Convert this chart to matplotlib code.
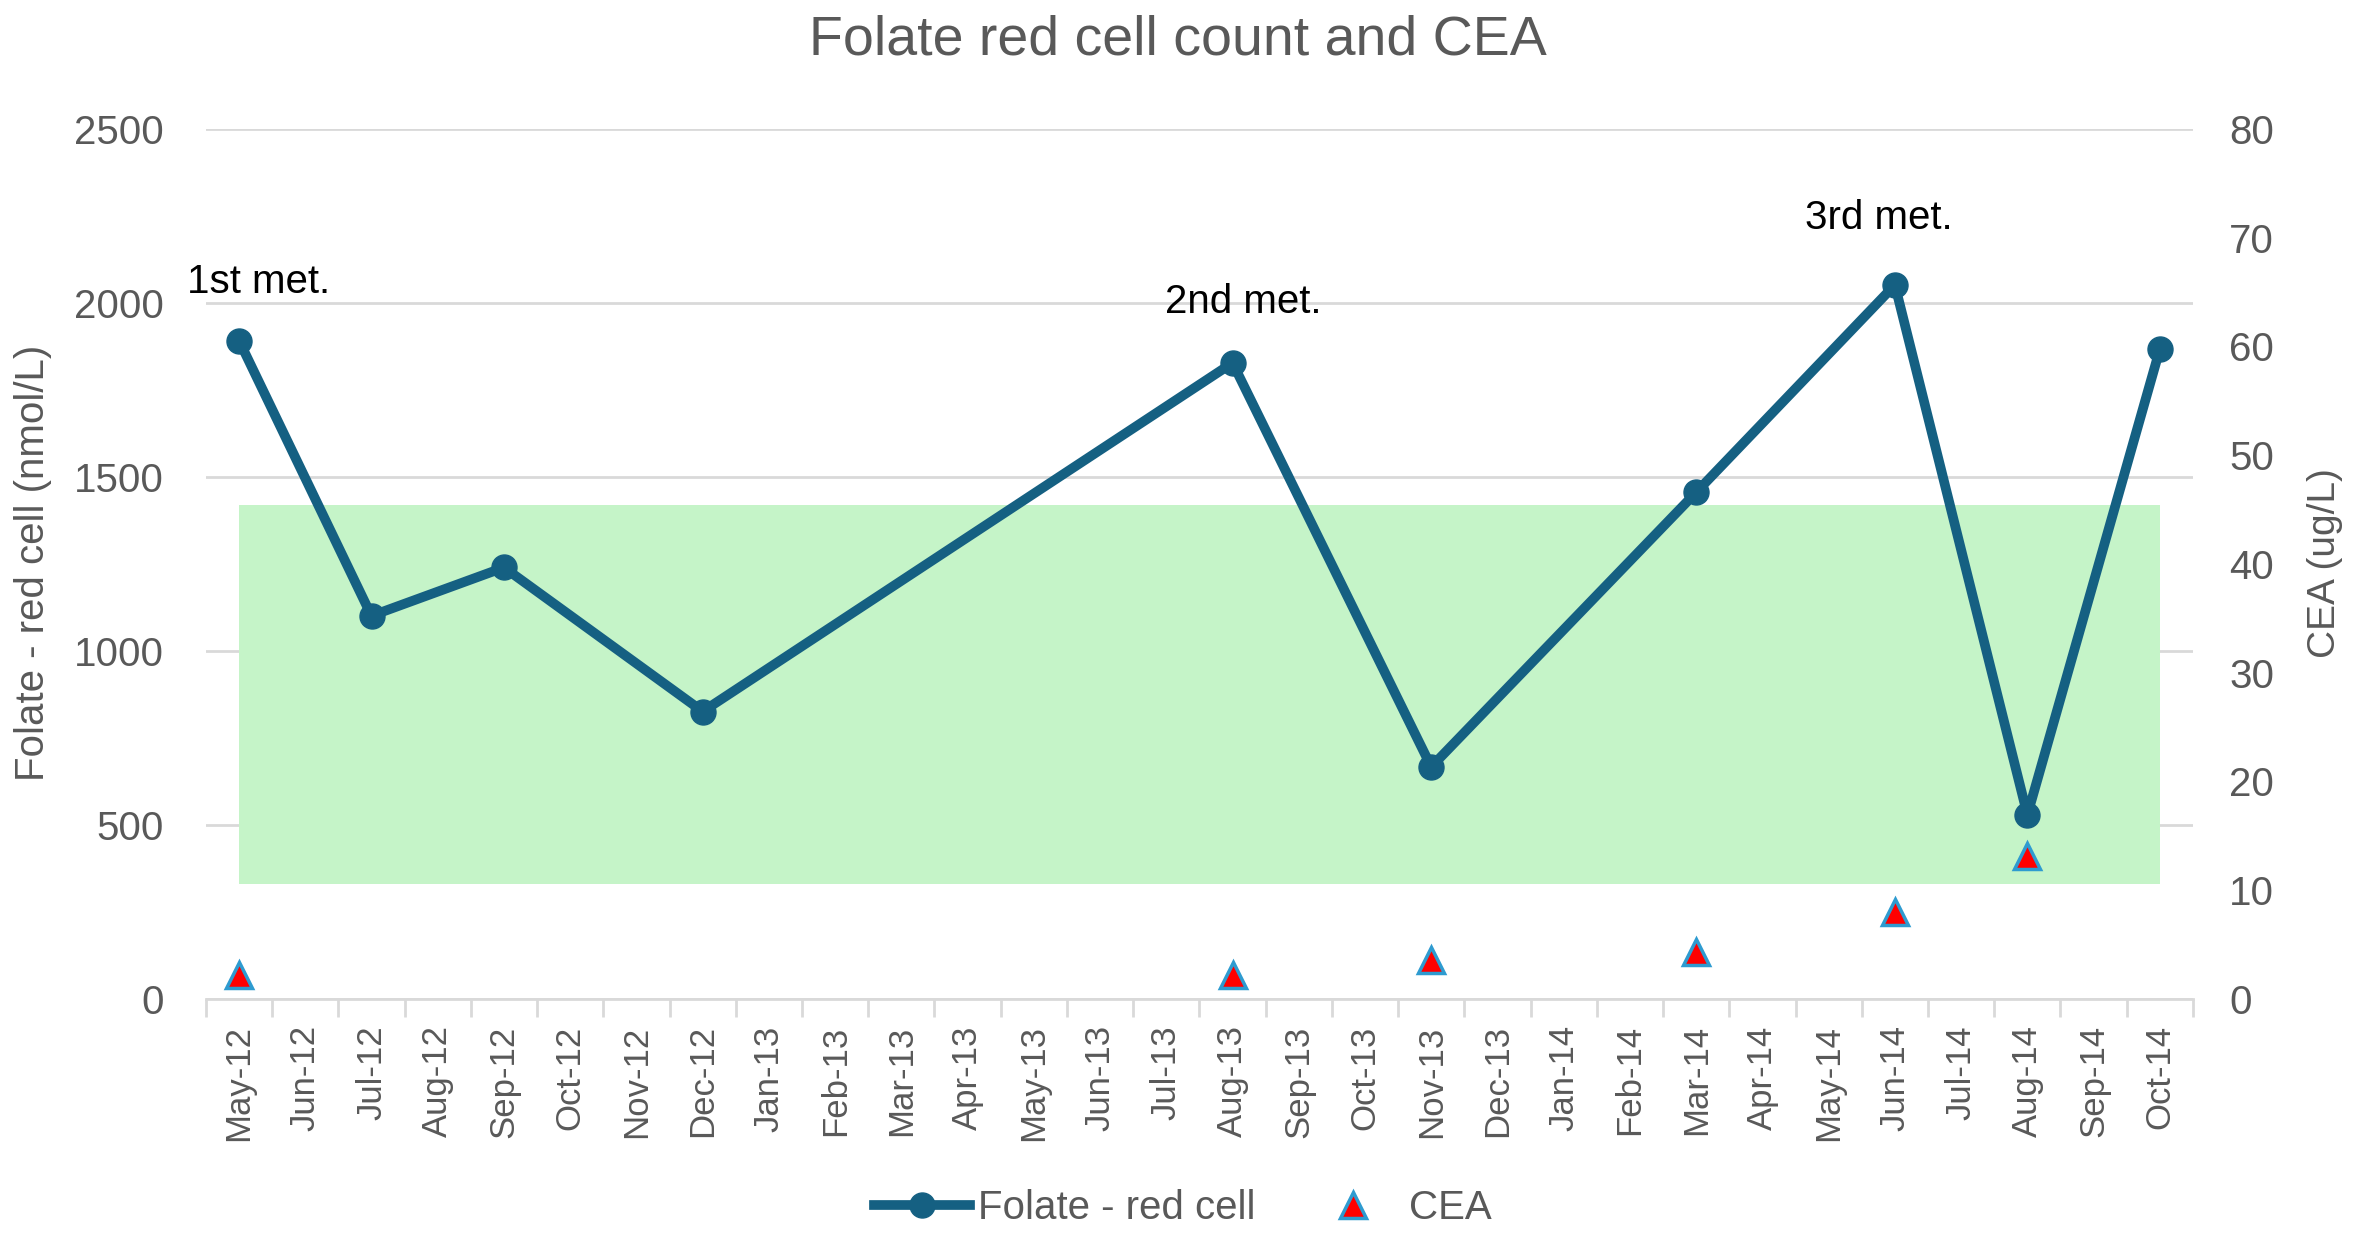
import matplotlib
matplotlib.use('Agg')
import matplotlib.pyplot as plt
from matplotlib.lines import Line2D

plt.rcParams['font.family'] = ['Liberation Sans', 'DejaVu Sans']

# month categories on the x axis
months = ['May-12', 'Jun-12', 'Jul-12', 'Aug-12', 'Sep-12', 'Oct-12', 'Nov-12', 'Dec-12',
          'Jan-13', 'Feb-13', 'Mar-13', 'Apr-13', 'May-13', 'Jun-13', 'Jul-13', 'Aug-13',
          'Sep-13', 'Oct-13', 'Nov-13', 'Dec-13', 'Jan-14', 'Feb-14', 'Mar-14', 'Apr-14',
          'May-14', 'Jun-14', 'Jul-14', 'Aug-14', 'Sep-14', 'Oct-14']

# folate red cell (nmol/L)
folate_months = ['May-12', 'Jul-12', 'Sep-12', 'Dec-12', 'Aug-13', 'Nov-13', 'Mar-14', 'Jun-14', 'Aug-14', 'Oct-14']
folate = [1892, 1101, 1240, 826, 1828, 667, 1456, 2052, 529, 1867]

# CEA (ug/L)
cea_months = ['May-12', 'Aug-13', 'Nov-13', 'Mar-14', 'Jun-14', 'Aug-14']
cea = [2.2, 2.2, 3.6, 4.3, 8.0, 13.1]

# folate reference range (shaded)
ref_low, ref_high = 330, 1420

# annotations: (text, month position, folate height)
notes = [('1st met.', -0.78, 2029), ('2nd met.', 13.98, 1971), ('3rd met.', 23.64, 2213)]

grey = '#595959'
grid_c = '#D9D9D9'
line_c = '#156082'

fig = plt.figure(figsize=(23.56, 12.38), dpi=100)
ax = fig.add_axes([0.0874, 0.1931, 0.8434, 0.7027])
ax2 = ax.twinx()

xf = [months.index(m) for m in folate_months]
xc = [months.index(m) for m in cea_months]

ax.fill_between([0, len(months) - 1], ref_low, ref_high, color='#C5F4C8', lw=0, zorder=1)
ax.plot(xf, folate, color=line_c, lw=7, marker='o', ms=18, zorder=3,
        solid_capstyle='round', solid_joinstyle='round')
ax2.plot(xc, cea, ls='none', marker='^', ms=19, mfc='#FF0000', mec='#2E9BD0', mew=2.5, zorder=4)

ax.set_xlim(-0.5, len(months) - 0.5)
ax.set_ylim(0, 2500)
ax2.set_ylim(0, 80)
ax.set_yticks(range(0, 2501, 500))
ax2.set_yticks(range(0, 81, 10))

ax.set_xticks(range(len(months)))
ax.set_xticklabels(months, rotation=90, fontsize=25, color=grey)
ax.set_xticks([i - 0.5 for i in range(len(months) + 1)], minor=True)
ax.tick_params(axis='x', which='major', length=0, pad=19)
ax.tick_params(axis='x', which='minor', length=13, width=2, color=grid_c)
ax.tick_params(axis='y', length=0, pad=30, labelsize=29, labelcolor=grey)
ax2.tick_params(axis='y', length=0, pad=26, labelsize=29, labelcolor=grey)

ax.grid(axis='y', color=grid_c, lw=2)
ax.set_axisbelow(True)
for s in ['top', 'left', 'right']:
    ax.spines[s].set_visible(False)
ax.spines['bottom'].set_color(grid_c)
ax.spines['bottom'].set_linewidth(2)
for s in ax2.spines.values():
    s.set_visible(False)

for txt, xp, yp in notes:
    ax.text(xp, yp, txt, fontsize=29, color='black', ha='left', va='baseline', zorder=5)

fig.text(0.5, 0.9556, 'Folate red cell count and CEA', fontsize=40, color=grey,
         ha='center', va='baseline')
fig.text(0.014, 0.545, 'Folate - red cell (nmol/L)', rotation=90, fontsize=29, color=grey,
         ha='center', va='center')
fig.text(0.987, 0.545, 'CEA (ug/L)', rotation=90, fontsize=28, color=grey,
         ha='center', va='center')

handles = [Line2D([], [], color=line_c, lw=7, marker='o', ms=18),
           Line2D([], [], ls='none', marker='^', ms=19, mfc='#FF0000', mec='#2E9BD0', mew=2.5)]
leg = fig.legend(handles, ['Folate - red cell', 'CEA'], loc='center', bbox_to_anchor=(0.502, 0.024),
                 ncol=2, frameon=False, fontsize=29, handlelength=2.4, handletextpad=0.2,
                 columnspacing=1.2, numpoints=1)
for t in leg.get_texts():
    t.set_color(grey)

fig.savefig('out.png', dpi=100)
